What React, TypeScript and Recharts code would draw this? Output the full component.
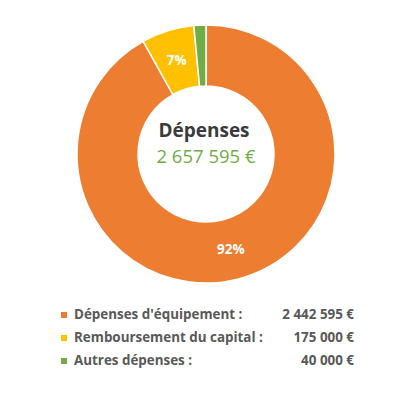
import { PieChart, Pie, Cell, Legend } from 'recharts';

const categories = ["Dépenses d'équipement :", 'Remboursement du capital :', 'Autres dépenses :'];
const amounts = [2442595, 175000, 40000];
const amountLabels = ['2 442 595 €', '175 000 €', '40 000 €'];
const totalLabel = '2 657 595 €';
const title = 'Dépenses';

const COLORS = ['#ED7D31', '#FFC000', '#70AD47'];
const FONT = '"Open Sans", Lato, sans-serif';
const RADIAN = Math.PI / 180;

const data = categories.map((name, i) => ({ name, value: amounts[i], label: amountLabels[i] }));

const renderSliceLabel = (props: any) => {
  const { cx, cy, midAngle, innerRadius, outerRadius, percent } = props;
  if (percent < 0.05) return null;
  const r = (innerRadius + outerRadius) / 2;
  const x = cx + r * Math.cos(-midAngle * RADIAN);
  const y = cy + r * Math.sin(-midAngle * RADIAN);
  return (
    <text
      x={x}
      y={y}
      fill="#ffffff"
      textAnchor="middle"
      dominantBaseline="central"
      fontSize={13.5}
      fontWeight={700}
      fontFamily={FONT}
    >
      {`${Math.round(percent * 100)}%`}
    </text>
  );
};

const renderLegend = () => (
  <div style={{ fontFamily: FONT, fontSize: 13.4, fontWeight: 700, color: '#595959' }}>
    {data.map((d, i) => (
      <div key={d.name} style={{ position: 'relative', height: 23, lineHeight: '23px' }}>
        <span
          style={{
            position: 'absolute',
            left: 61,
            top: 9,
            width: 6,
            height: 6,
            background: COLORS[i],
          }}
        />
        <span style={{ position: 'absolute', left: 74, whiteSpace: 'nowrap' }}>{d.name}</span>
        <span style={{ position: 'absolute', right: 393 - 354, whiteSpace: 'nowrap' }}>{d.label}</span>
      </div>
    ))}
  </div>
);

export default function App() {
  return (
    <div style={{ position: 'absolute', left: 0, top: 0, width: 393, height: 415, background: '#fff' }}>
      <PieChart width={393} height={415}>
        <Pie
          data={data}
          dataKey="value"
          nameKey="name"
          cx={201}
          cy={149}
          innerRadius={68}
          outerRadius={129}
          startAngle={90}
          endAngle={-270}
          stroke="#ffffff"
          strokeWidth={1.5}
          label={renderSliceLabel}
          labelLine={false}
          isAnimationActive={false}
        >
          {data.map((entry, index) => (
            <Cell key={`cell-${index}`} fill={COLORS[index]} />
          ))}
        </Pie>
        <Legend
          content={renderLegend}
          wrapperStyle={{ left: 0, top: 303, width: 393, height: 69 }}
        />
      </PieChart>
      <div
        style={{
          position: 'absolute',
          left: 142,
          top: 117,
          width: 124,
          textAlign: 'center',
          fontFamily: FONT,
          pointerEvents: 'none',
        }}
      >
        <div style={{ fontSize: 19, fontWeight: 700, color: '#3b3b3b', lineHeight: '26px' }}>{title}</div>
        <div
          style={{
            fontSize: 18.5,
            color: '#70AD47',
            lineHeight: '26px',
            whiteSpace: 'nowrap',
            marginLeft: 4,
          }}
        >
          {totalLabel}
        </div>
      </div>
    </div>
  );
}
